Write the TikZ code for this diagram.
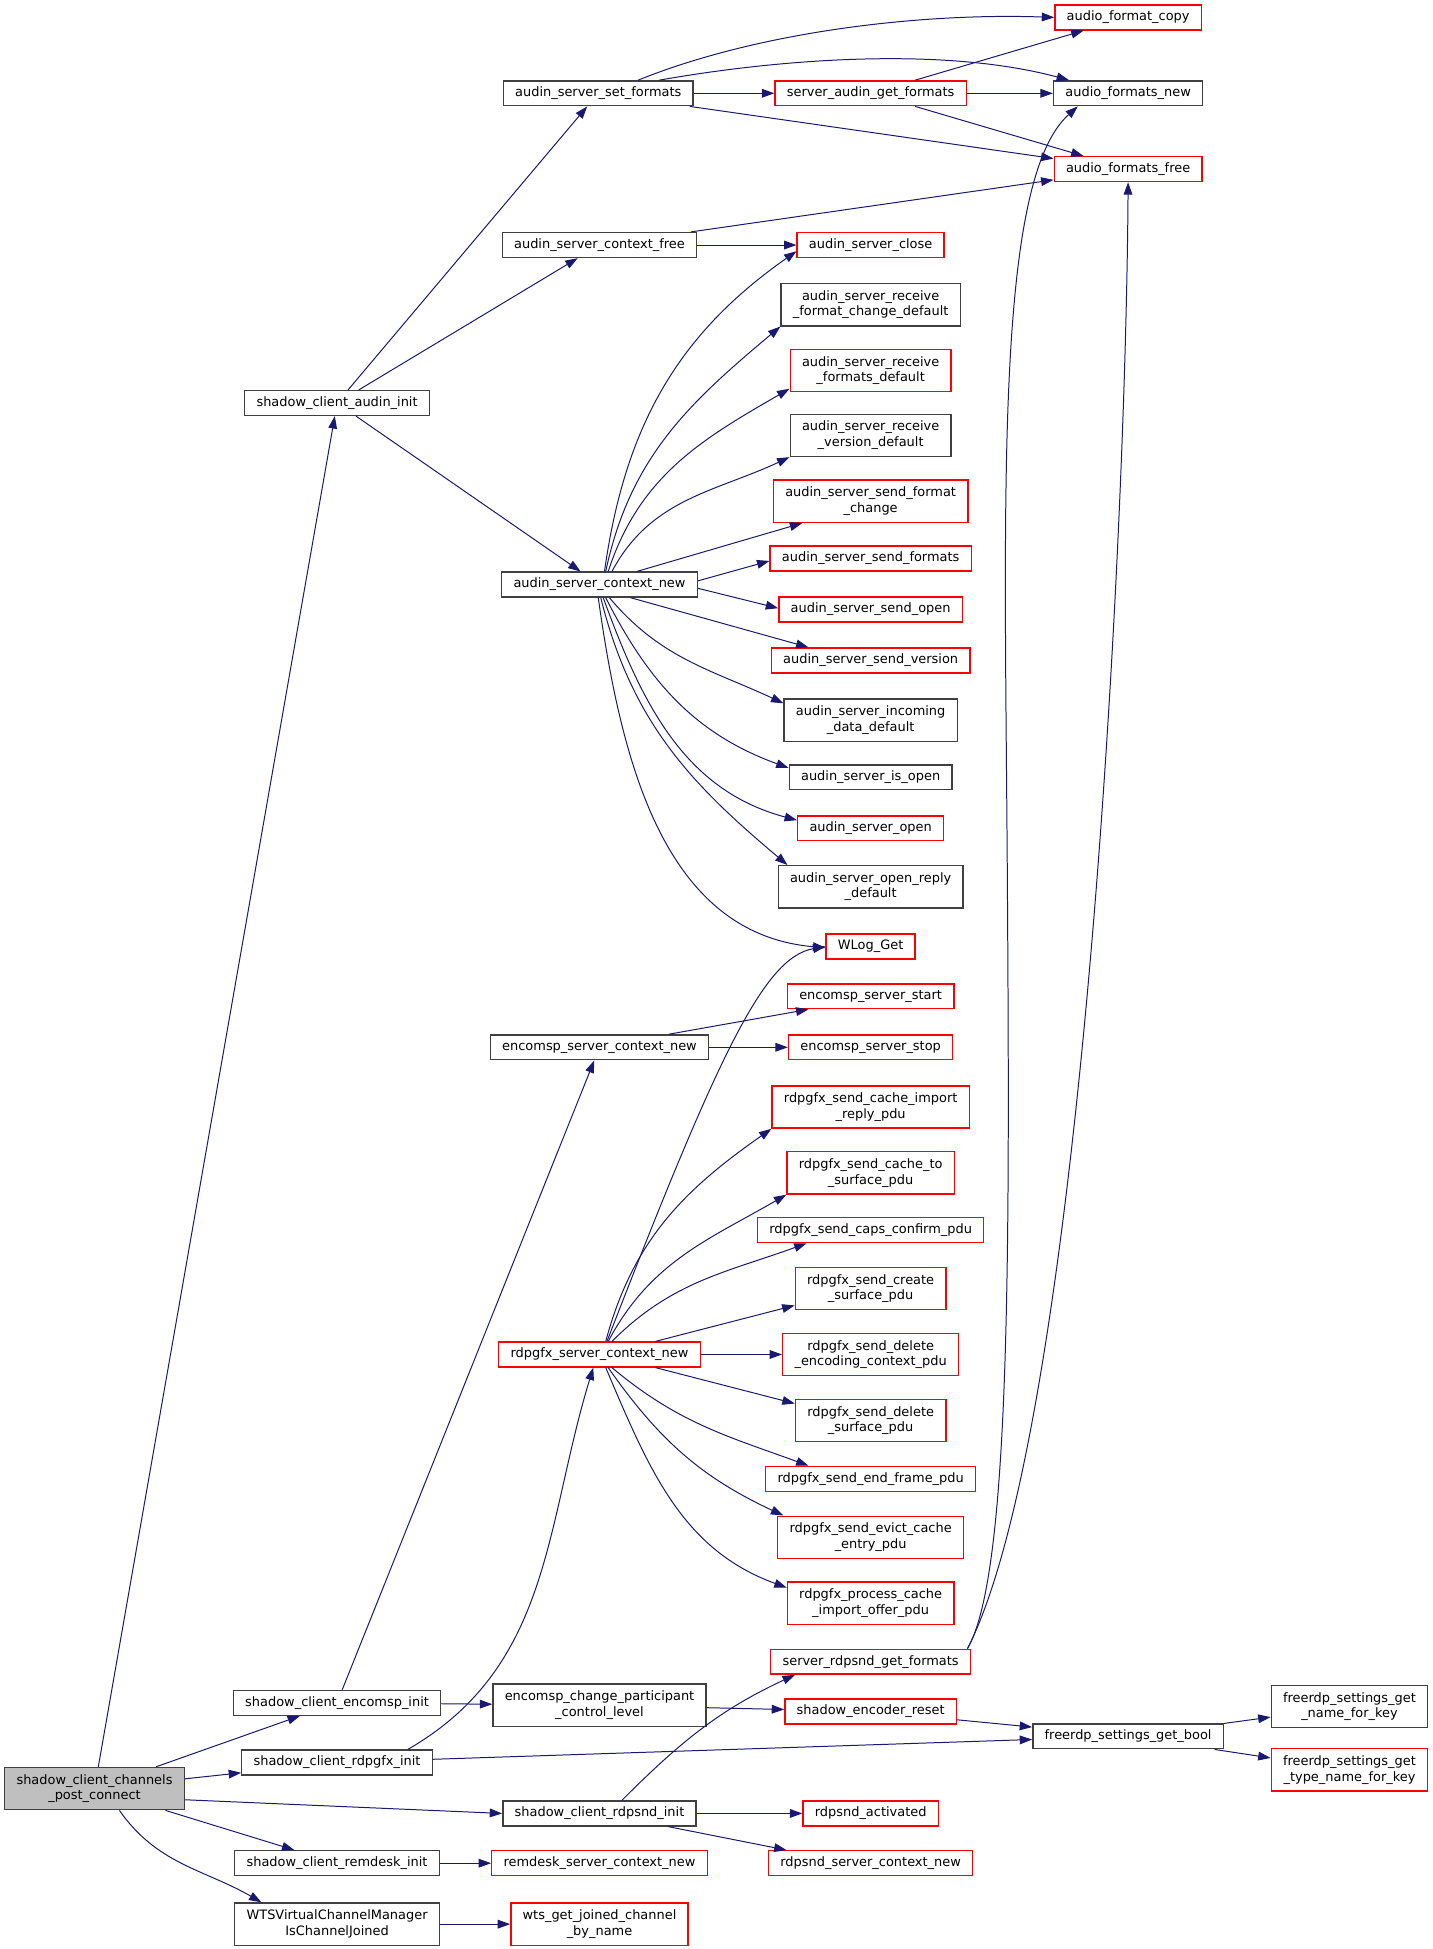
\documentclass[tikz,border=0pt]{standalone}
\usepackage{fontspec}
\usepackage{tikz}
\usetikzlibrary{positioning, arrows.meta}
\newfontfamily\graphfont{DejaVu Sans}
\definecolor{edgeblue}{RGB}{25,25,112}
\definecolor{boxgray}{RGB}{64,64,64}
\definecolor{rootfill}{RGB}{191,191,191}
\tikzset{
    fn/.style={draw=boxgray, rectangle, fill=white, line width=1.1pt, inner xsep=9.5pt, inner ysep=2pt,
        minimum height=20pt, align=center, font=\graphfont\fontsize{10.4}{12.5}\selectfont},
    fnred/.style={fn, draw=red},
    twoline/.style={minimum height=34pt},
    call/.style={draw=edgeblue, line width=0.8pt, -{Triangle[length=10pt,width=7pt]}},
}

\begin{document}
\begin{tikzpicture}[x=1pt,y=1pt]
        \useasboundingbox (0,0) rectangle (1152,-1567);
        \node[fn, twoline, fill=rootfill] (main) at (76,-1438) {shadow\_client\_channels\\\_post\_connect};
        % callers column
        \node[fn] (audinit) at (271,-324) {shadow\_client\_audin\_init};
        \node[fn] (encinit) at (271,-1369) {shadow\_client\_encomsp\_init};
        \node[fn] (gfxinit) at (271,-1417) {shadow\_client\_rdpgfx\_init};
        \node[fn] (remdinit) at (271,-1498) {shadow\_client\_remdesk\_init};
        \node[fn, twoline] (wtsjoin) at (271,-1547) {WTSVirtualChannelManager\\IsChannelJoined};
        % second column
        \node[fn] (setfmt) at (481,-75) {audin\_server\_set\_formats};
        \node[fn] (ctxfree) at (482,-197) {audin\_server\_context\_free};
        \node[fn] (ctxnew) at (482,-470) {audin\_server\_context\_new};
        \node[fn] (encctx) at (482,-842) {encomsp\_server\_context\_new};
        \node[fnred] (gfxctx) at (482,-1089) {rdpgfx\_server\_context\_new};
        \node[fn, twoline] (chgctl) at (482,-1371) {encomsp\_change\_participant\\\_control\_level};
        \node[fn] (sndinit) at (482,-1458) {shadow\_client\_rdpsnd\_init};
        \node[fnred] (remdctx) at (482,-1498) {remdesk\_server\_context\_new};
        \node[fnred, twoline] (wtsget) at (482,-1547) {wts\_get\_joined\_channel\\\_by\_name};
        % third column
        \node[fnred] (getfmt) at (700,-75) {server\_audin\_get\_formats};
        \node[fnred] (close) at (700,-197) {audin\_server\_close};
        \node[fn, twoline] (rfc) at (700,-245) {audin\_server\_receive\\\_format\_change\_default};
        \node[fnred, twoline] (rfd) at (700,-298) {audin\_server\_receive\\\_formats\_default};
        \node[fn, twoline] (rvd) at (700,-350) {audin\_server\_receive\\\_version\_default};
        \node[fnred, twoline] (sfc) at (700,-403) {audin\_server\_send\_format\\\_change};
        \node[fnred] (sfmt) at (700,-449) {audin\_server\_send\_formats};
        \node[fnred] (sopen) at (700,-490) {audin\_server\_send\_open};
        \node[fnred] (sver) at (700,-531) {audin\_server\_send\_version};
        \node[fn, twoline] (incd) at (700,-579) {audin\_server\_incoming\\\_data\_default};
        \node[fn] (isopen) at (700,-625) {audin\_server\_is\_open};
        \node[fnred] (open) at (700,-666) {audin\_server\_open};
        \node[fn, twoline] (oprd) at (700,-713) {audin\_server\_open\_reply\\\_default};
        \node[fnred] (wlog) at (700,-761) {WLog\_Get};
        \node[fnred] (estart) at (700,-801) {encomsp\_server\_start};
        \node[fnred] (estop) at (700,-842) {encomsp\_server\_stop};
        \node[fnred, twoline] (gcir) at (700,-890) {rdpgfx\_send\_cache\_import\\\_reply\_pdu};
        \node[fnred, twoline] (gcts) at (700,-943) {rdpgfx\_send\_cache\_to\\\_surface\_pdu};
        \node[fnred] (gccp) at (700,-989) {rdpgfx\_send\_caps\_confirm\_pdu};
        \node[fnred, twoline] (gcsp) at (700,-1036) {rdpgfx\_send\_create\\\_surface\_pdu};
        \node[fnred, twoline] (gdec) at (700,-1089) {rdpgfx\_send\_delete\\\_encoding\_context\_pdu};
        \node[fnred, twoline] (gdsp) at (700,-1142) {rdpgfx\_send\_delete\\\_surface\_pdu};
        \node[fnred] (gefp) at (700,-1189) {rdpgfx\_send\_end\_frame\_pdu};
        \node[fnred, twoline] (gece) at (700,-1236) {rdpgfx\_send\_evict\_cache\\\_entry\_pdu};
        \node[fnred, twoline] (gpci) at (700,-1289) {rdpgfx\_process\_cache\\\_import\_offer\_pdu};
        \node[fnred] (sndfmt) at (700,-1336) {server\_rdpsnd\_get\_formats};
        \node[fnred] (encrst) at (700,-1376) {shadow\_encoder\_reset};
        \node[fnred] (sndact) at (700,-1458) {rdpsnd\_activated};
        \node[fnred] (sndctx) at (700,-1498) {rdpsnd\_server\_context\_new};
        % fourth and fifth column
        \node[fnred] (afcopy) at (907,-14) {audio\_format\_copy};
        \node[fn] (afnew) at (907,-75) {audio\_formats\_new};
        \node[fnred] (affree) at (907,-136) {audio\_formats\_free};
        \node[fn] (getbool) at (907,-1396) {freerdp\_settings\_get\_bool};
        \node[fn, twoline] (namekey) at (1085,-1372) {freerdp\_settings\_get\\\_name\_for\_key};
        \node[fnred, twoline] (typekey) at (1085,-1423) {freerdp\_settings\_get\\\_type\_name\_for\_key};

        \draw[call] (main) -- (audinit);
        \draw[call] (main) -- (encinit);
        \draw[call] (main) -- (gfxinit);
        \draw[call] ([yshift=-9pt]main.east) -- (sndinit.west);
        \draw[call] (main) -- (remdinit);
        \draw[call] ([xshift=20pt]main.south) to[out=-55,in=150] ([xshift=22pt]wtsjoin.north west);
        \draw[call] (audinit) -- (setfmt);
        \draw[call] (audinit) -- (ctxfree);
        \draw[call] (audinit) -- (ctxnew);
        \draw[call] ([xshift=32pt]setfmt.north) to[out=22,in=178,looseness=0.8] (afcopy.west);
        \draw[call] ([xshift=49pt]setfmt.north) to[out=10,in=165,looseness=0.8] ([xshift=13pt]afnew.north west);
        \draw[call] (setfmt) -- (getfmt);
        \draw[call] (setfmt) -- (affree);
        \draw[call] (getfmt) -- (afcopy);
        \draw[call] (getfmt) -- (afnew);
        \draw[call] (getfmt) -- (affree);
        \draw[call] (ctxfree) -- (affree);
        \draw[call] (ctxfree) -- (close);
        \draw[call] ([xshift=4pt]ctxnew.north) to[out=82,in=215] ([yshift=-5pt]close.west);
        \draw[call] ([xshift=5pt]ctxnew.north) to[out=78,in=220] (rfc.south west);
        \draw[call] ([xshift=7pt]ctxnew.north) to[out=72,in=210] ([yshift=3pt]rfd.south west);
        \draw[call] ([xshift=10pt]ctxnew.north) to[out=62,in=205] (rvd.south west);
        \draw[call] ([xshift=30pt]ctxnew.north) -- ([xshift=-55pt]sfc.south);
        \draw[call] ([yshift=3pt]ctxnew.east) -- ([yshift=-2pt]sfmt.west);
        \draw[call] ([yshift=-3pt]ctxnew.east) -- ([yshift=1pt]sopen.west);
        \draw[call] ([xshift=25pt]ctxnew.south) -- ([xshift=-50pt]sver.north);
        \draw[call] ([xshift=8pt]ctxnew.south) to[out=-50,in=155] ([yshift=-4pt]incd.north west);
        \draw[call] ([xshift=5pt]ctxnew.south) to[out=-63,in=160] ([yshift=-3pt]isopen.north west);
        \draw[call] ([xshift=3pt]ctxnew.south) to[out=-70,in=165] ([yshift=-4pt]open.north west);
        \draw[call] ([xshift=1pt]ctxnew.south) to[out=-76,in=140] ([xshift=8pt]oprd.north west);
        \draw[call] ([xshift=-1pt]ctxnew.south) to[out=-82,in=175] ([yshift=-1pt]wlog.west);
        \draw[call] (encinit) -- (encctx);
        \draw[call] (encinit) -- (chgctl);
        \draw[call] ([xshift=56pt]encctx.north) -- ([xshift=-50pt]estart.south);
        \draw[call] (encctx) -- (estop);
        \draw[call] ([xshift=57pt]gfxinit.north) to[out=30,in=-107] ([xshift=-5pt]gfxctx.south);
        \draw[call] (gfxinit) -- (getbool);
        \draw[call] ([xshift=6pt]gfxctx.north) .. controls +(68.8:250) and +(190:50) .. (wlog.west);
        \draw[call] ([xshift=5pt]gfxctx.north) to[out=75,in=215] (gcir.south west);
        \draw[call] ([xshift=7pt]gfxctx.north) to[out=62,in=210] (gcts.south west);
        \draw[call] ([xshift=10pt]gfxctx.north) to[out=45,in=200] ([xshift=40pt]gccp.south west);
        \draw[call] ([xshift=45pt]gfxctx.north) -- ([yshift=4pt]gcsp.south west);
        \draw[call] (gfxctx) -- (gdec);
        \draw[call] ([xshift=45pt]gfxctx.south) -- ([yshift=-4pt]gdsp.north west);
        \draw[call] ([xshift=10pt]gfxctx.south) to[out=-40,in=160] ([xshift=35pt]gefp.north west);
        \draw[call] ([xshift=7pt]gfxctx.south) to[out=-55,in=155] ([xshift=5pt]gece.north west);
        \draw[call] ([xshift=5pt]gfxctx.south) to[out=-67,in=160] ([yshift=-5pt]gpci.north west);
        \draw[call] ([xshift=18pt]sndinit.north) to[out=45,in=205] ([xshift=20pt]sndfmt.south west);
        \draw[call] (sndinit) -- (sndact);
        \draw[call] ([xshift=55pt]sndinit.south) -- ([xshift=15pt]sndctx.north west);
        \draw[call] ([xshift=-3pt]sndfmt.north east) .. controls +(35,60) and +(2,-300) .. ++(32,626)
            .. controls +(-2,300) and +(-67,-60) .. ([xshift=20pt]afnew.south west);
        \draw[call] ([xshift=-3pt]sndfmt.north east) .. controls +(90,176) and +(-2,-304) .. (affree.south);
        \draw[call] (chgctl) -- (encrst);
        \draw[call] (encrst) -- (getbool);
        \draw[call] (getbool) -- (namekey);
        \draw[call] (getbool) -- (typekey);
        \draw[call] (remdinit) -- (remdctx);
        \draw[call] (wtsjoin) -- (wtsget);
    \end{tikzpicture}
\end{document}
